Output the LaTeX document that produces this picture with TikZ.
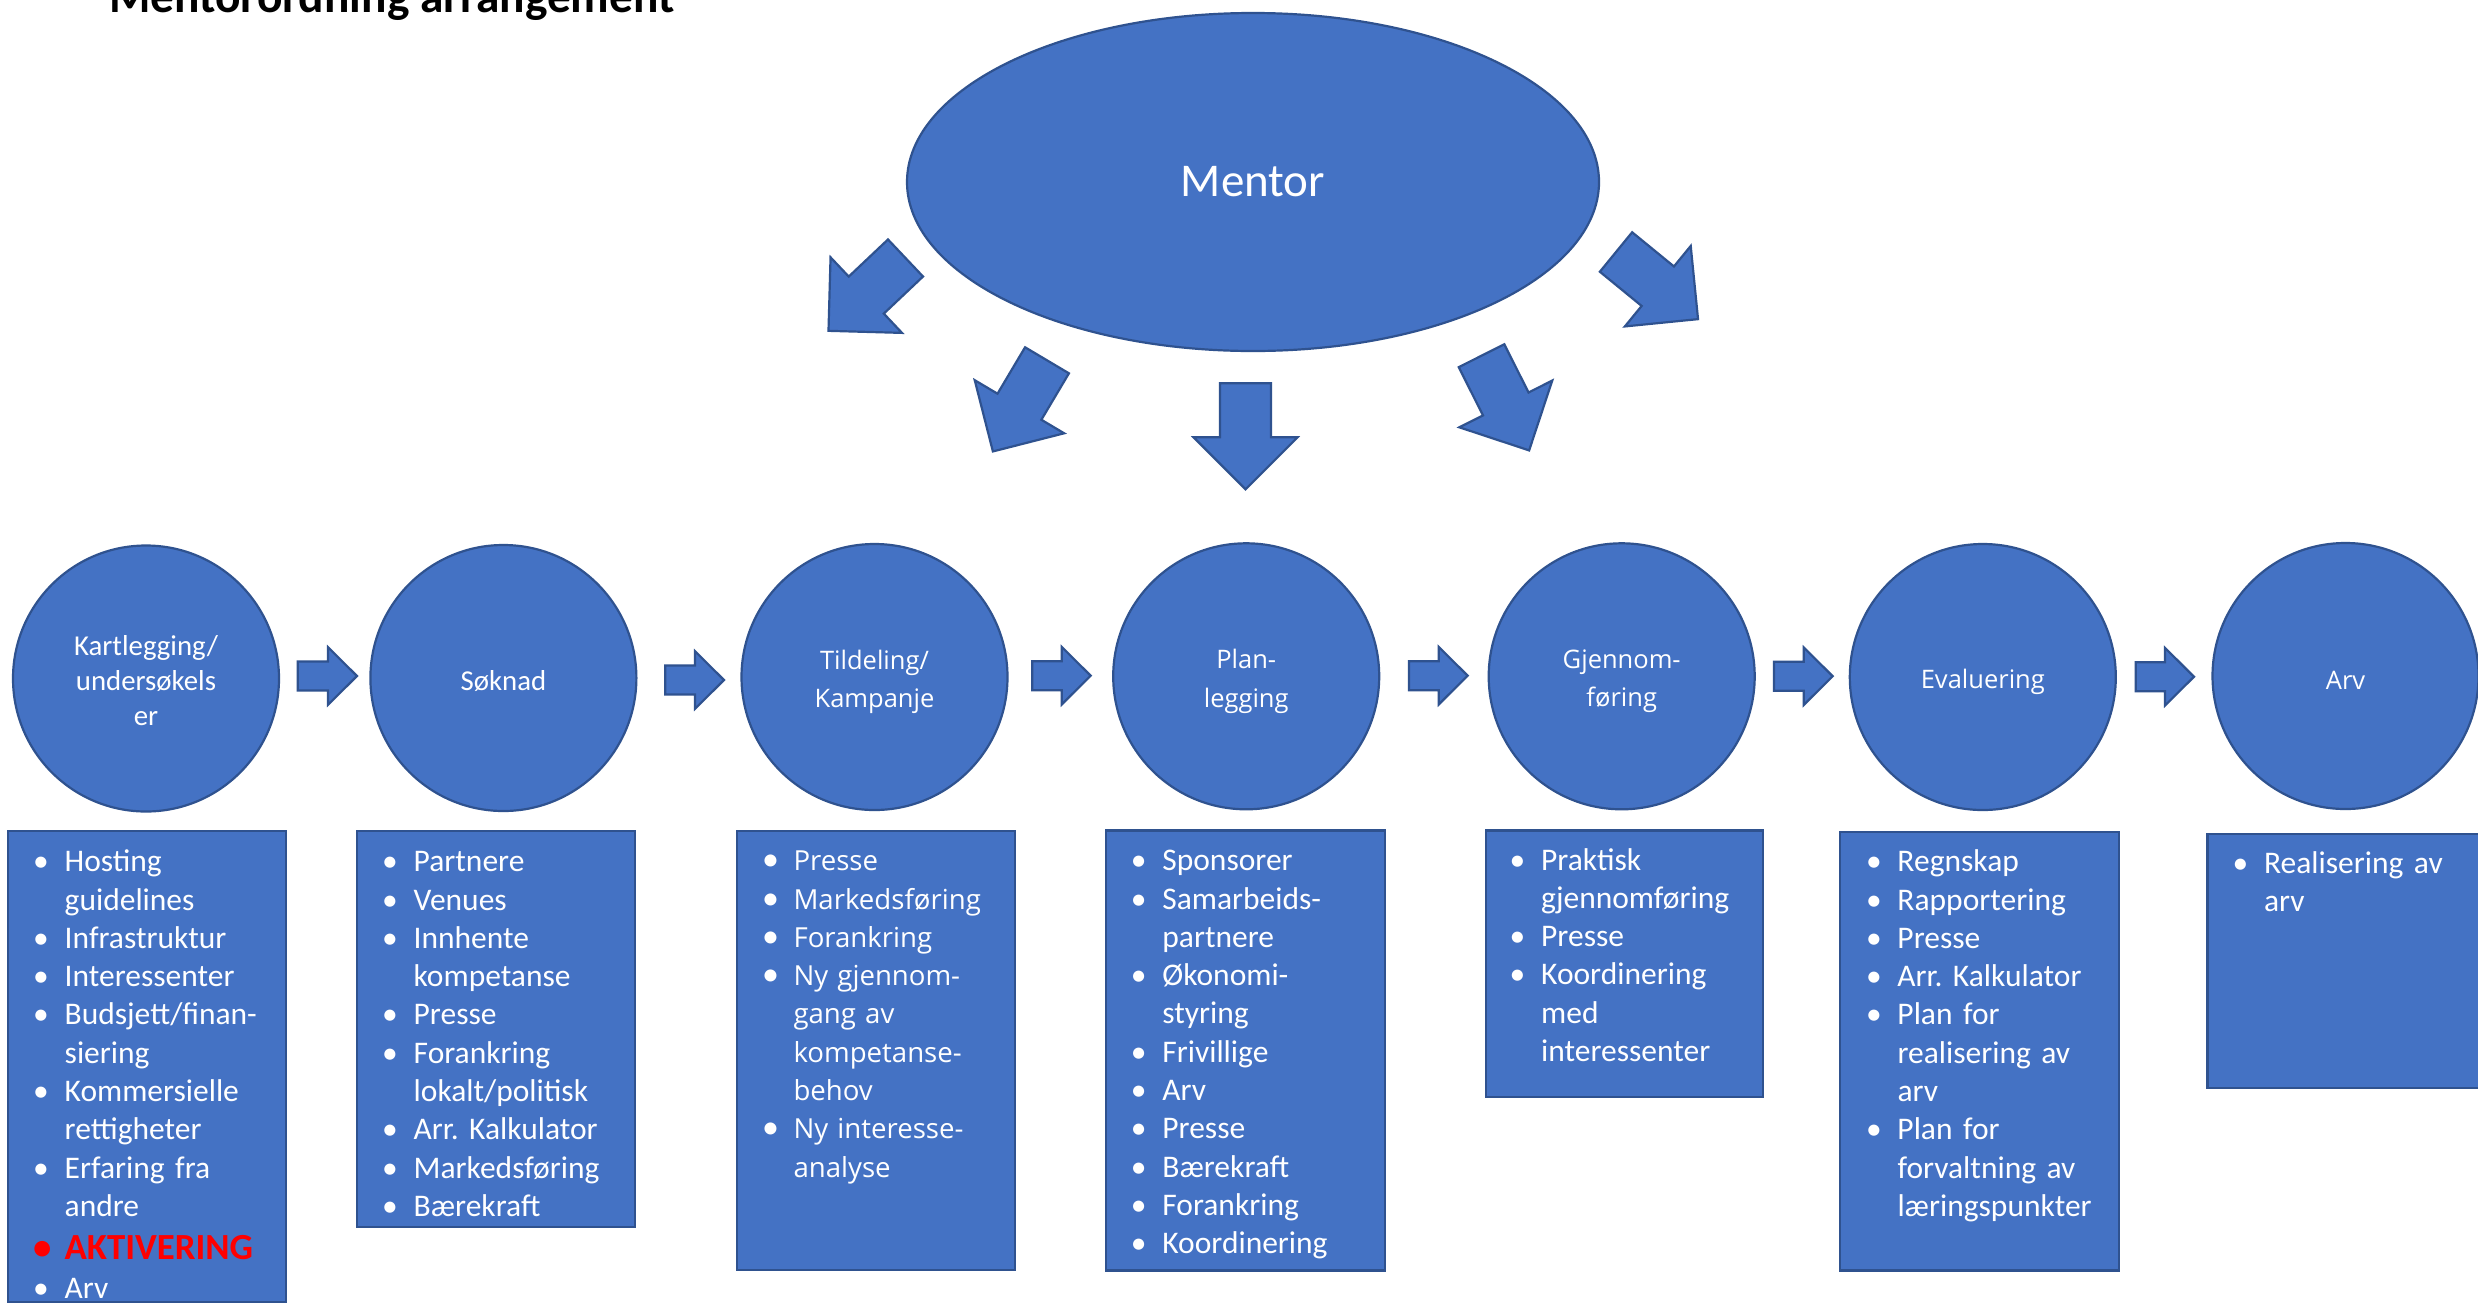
\documentclass[tikz,border=0pt]{standalone}
\usepackage{fontspec}
\setmainfont{Carlito}
\newfontfamily\segoe{Open Sans}
\usetikzlibrary{shapes.geometric}
\definecolor{shapefill}{HTML}{4472C4}
\definecolor{shapeline}{HTML}{2F528F}
\definecolor{akt}{HTML}{FF0000}
\newcommand\bul{\leavevmode\llap{\makebox[31.5pt][l]{•}}}
\newcommand\segbul{\leavevmode\llap{\makebox[31.5pt][l]{\rmfamily\fontsize{34}{38.3}\selectfont •}}}
% #1 x, #2 y (tail centre), #3 rotation, #4 length, #5 shaft half width, #6 head half width, #7 head length
\newcommand\blockarrow[7]{%
  \begin{scope}[shift={(#1,#2)},rotate=#3]
    \filldraw[bluefill] (0,-#5) -- ({#4-#7},-#5) -- ({#4-#7},-#6) -- (#4,0) -- ({#4-#7},#6) -- ({#4-#7},#5) -- (0,#5) -- cycle;
  \end{scope}}
\begin{document}
\begin{tikzpicture}[x=1pt,y=-1pt,
  bluefill/.style={fill=shapefill,draw=shapeline,line width=2.2pt},
  stage/.style={bluefill,circle,minimum size=266pt,inner sep=0pt},
  caltext/.style={inner sep=0pt,text=white,align=center,font=\fontsize{28.8}{35}\selectfont},
  segtext/.style={inner sep=0pt,text=white,align=center,font=\segoe\fontsize{25.5}{38.4}\selectfont},
  listbox/.style={bluefill,rectangle,inner sep=0pt,anchor=north west},
  listtext/.style={inner sep=0pt,anchor=base west,text width=400pt,align=left,text=white,font=\frenchspacing\fontsize{31.5}{38.3}\selectfont},
  seglisttext/.style={listtext,font=\frenchspacing\segoe\fontsize{27.6}{38.3}\selectfont}]
\useasboundingbox (0,0) rectangle (2478,1302);
\clip (0,0) rectangle (2478,1302);
\fill[white] (0,0) rectangle (2478,1302);

% title
\node[anchor=base west,inner sep=0pt,font=\bfseries\fontsize{47.4}{57}\selectfont] (title) at (109,12) {Mentorordning arrangement};

% mentor
\node[bluefill,ellipse,minimum width=692pt,minimum height=338pt,inner sep=0pt,text=white,font=\fontsize{47}{56}\selectfont] (mentor) at (1253,182) {Mentor};

% mentor arrows
\blockarrow{905.5}{258}{-136.6}{106}{25.5}{52}{52}
\blockarrow{1047}{360.3}{-120.7}{106}{25.5}{52}{52}
\blockarrow{1245.5}{383.3}{-90}{106}{25.5}{52}{52}
\blockarrow{1481.5}{355.7}{-63.3}{106}{25.5}{52}{52}
\blockarrow{1616}{252}{-39.3}{106}{25.5}{52}{52}

% stages
\node[stage] (c1) at (146,678.5) {};
\node[stage] (c2) at (503.4,678) {};
\node[stage] (c3) at (874.5,677) {};
\node[stage] (c4) at (1246.2,676.3) {};
\node[stage] (c5) at (1621.7,676.3) {};
\node[stage] (c6) at (1982.8,677) {};
\node[stage] (c7) at (2345.5,676) {};
\node[caltext] (l1) at ([yshift=-2pt]c1.center) {Kartlegging/\\undersøkels\\er};
\node[caltext] (l2) at ([yshift=-3pt]c2.center) {Søknad};
\node[segtext] (l3) at ([yshift=-5pt]c3.center) {Tildeling/\\Kampanje};
\node[segtext] (l4) at ([yshift=-5pt]c4.center) {Plan-\\legging};
\node[segtext] (l5) at ([yshift=-5pt]c5.center) {Gjennom-\\føring};
\node[segtext] (l6) at ([yshift=-5pt]c6.center) {Evaluering};
\node[segtext] (l7) at ([yshift=-4pt]c7.center) {Arv};

% arrows between stages
\blockarrow{297.8}{676}{0}{59.2}{14.5}{28.8}{29}
\blockarrow{665.3}{680}{0}{58.7}{14.5}{28.8}{29}
\blockarrow{1032.3}{675.7}{0}{58.4}{14.5}{28.8}{29}
\blockarrow{1409}{675.7}{0}{58.7}{14.5}{28.8}{29}
\blockarrow{1774}{676.2}{0}{58.7}{14.5}{28.8}{29}
\blockarrow{2135.7}{676.7}{0}{58.3}{14.5}{28.8}{29}

% boxes
\node[listbox,minimum width=278pt,minimum height=471pt] (b1) at (7,830) {};
\node[listbox,minimum width=278pt,minimum height=396pt] (b2) at (356,830) {};
\node[listbox,minimum width=278pt,minimum height=438.7pt] (b3) at (736,830) {};
\node[listbox,minimum width=278.7pt,minimum height=440pt] (b4) at (1105,829.3) {};
\node[listbox,minimum width=277.5pt,minimum height=266.7pt] (b5) at (1484.7,829.3) {};
\node[listbox,minimum width=278.8pt,minimum height=438.6pt] (b6) at (1839,830.7) {};
\node[listbox,minimum width=278pt,minimum height=254pt] (b7) at (2206.4,832.7) {};

% box texts
\node[listtext] (t1) at (64.5,871.7) {\bul Hosting\\
guidelines\\
\bul Infrastruktur\\
\bul Interessenter\\
\bul Budsjett/finan-\\
siering\\
\bul Kommersielle\\
rettigheter\\
\bul Erfaring fra\\
andre\\[5pt]
{\color{akt}\bfseries\fontsize{36.8}{38.3}\selectfont\bul AKTIVERING}\\
\bul Arv};

\node[listtext] (t2) at (413.5,871.7) {\bul Partnere\\
\bul Venues\\
\bul Innhente\\
kompetanse\\
\bul Presse\\
\bul Forankring\\
lokalt/politisk\\
\bul Arr. Kalkulator\\
\bul Markedsføring\\
\bul Bærekraft};

\node[seglisttext] (t3) at (793.3,870.7) {\segbul Presse\\
\segbul Markedsføring\\
\segbul Forankring\\
\segbul Ny gjennom-\\
gang av\\
kompetanse-\\
behov\\
\segbul Ny interesse-\\
analyse};

\node[listtext] (t4) at (1162.2,870.7) {\bul Sponsorer\\
\bul Samarbeids-\\
partnere\\
\bul Økonomi-\\
styring\\
\bul Frivillige\\
\bul Arv\\
\bul Presse\\
\bul Bærekraft\\
\bul Forankring\\
\bul Koordinering};

\node[listtext] (t5) at (1541,870) {\bul Praktisk\\
gjennomføring\\
\bul Presse\\
\bul Koordinering\\
med\\
interessenter};

\node[listtext] (t6) at (1897.3,871.7) {\bul Regnskap\\
\bul Rapportering\\
\bul Presse\\
\bul Arr. Kalkulator\\
\bul Plan for\\
realisering av\\
arv\\
\bul Plan for\\
forvaltning av\\
læringspunkter};

\node[listtext] (t7) at (2263.9,873.3) {\bul Realisering av\\
arv};
\end{tikzpicture}
\end{document}
